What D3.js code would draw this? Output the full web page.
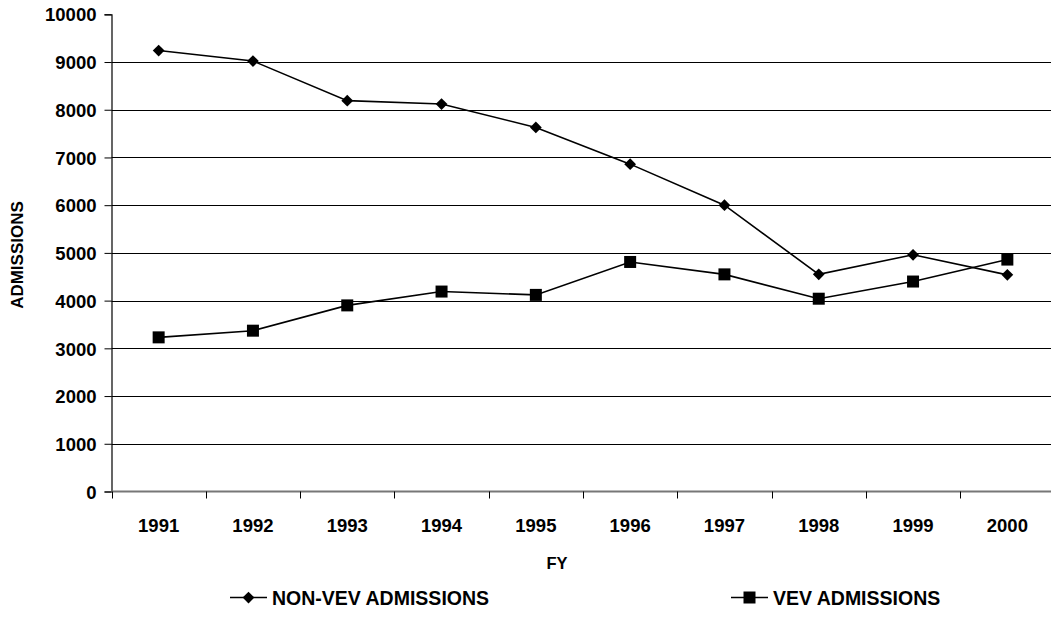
<!DOCTYPE html>
<html>
<body style="margin:0;background:#fff">

<script src="https://d3js.org/d3.v7.min.js"></script>
<style>
  text { font-family: "Liberation Sans", Arial, sans-serif; font-weight: bold; fill: #000; }
</style>

<script>

var years = ["1991", "1992", "1993", "1994", "1995", "1996", "1997", "1998", "1999", "2000"];
var nonVev = [9240, 9020, 8190, 8120, 7630, 6860, 6000, 4550, 4960, 4540];
var vev = [3230, 3370, 3900, 4190, 4120, 4810, 4550, 4040, 4400, 4860];
var yTicks = [0, 1000, 2000, 3000, 4000, 5000, 6000, 7000, 8000, 9000, 10000];

var width = 1051, height = 618;
var plotLeft = 111.5, plotRight = 1054.5, plotTop = 14.3, plotBottom = 491.5;

var svg = d3.select("body")
            .append("svg")
            .attr("width", width)
            .attr("height", height);

var xScale = d3.scaleBand()
               .domain(years)
               .range([plotLeft, plotRight]);

var yScale = d3.scaleLinear()
               .domain([0, 10000])
               .range([plotBottom, plotTop]);

// gridlines
svg.append("g")
   .selectAll("line")
   .data(yTicks.filter(function(d){return d > 0 && d < 10000}))
   .enter().append("line")
   .attr("x1", plotLeft).attr("x2", width)
   .attr("y1", function(d){return Math.round(yScale(d)) + 0.5})
   .attr("y2", function(d){return Math.round(yScale(d)) + 0.5})
   .attr("stroke", "#000")
   .attr("stroke-width", 1);

// y axis
var yAxis = d3.axisLeft(yScale)
              .tickValues(yTicks)
              .tickSize(7)
              .tickPadding(8)
              .tickFormat(d3.format("d"));

var gy = svg.append("g")
   .attr("transform", "translate(" + plotLeft + ",0)")
   .call(yAxis);
gy.select(".domain").attr("stroke", "#000").attr("stroke-width", 1.2);
gy.selectAll(".tick line").attr("stroke", "#000");
gy.selectAll("text")
  .style("font-size", "18.5px").attr("dy", "0.36em");
gy.attr("font-family", null).attr("font-size", null);

// x axis (ticks on band boundaries)
svg.append("line")
   .attr("x1", plotLeft).attr("x2", width)
   .attr("y1", plotBottom).attr("y2", plotBottom)
   .attr("stroke", "#777").attr("stroke-width", 2);

svg.append("g")
   .selectAll("line")
   .data(years)
   .enter().append("line")
   .attr("x1", function(d){return Math.round(xScale(d)) + 0.5})
   .attr("x2", function(d){return Math.round(xScale(d)) + 0.5})
   .attr("y1", plotBottom).attr("y2", plotBottom + 7)
   .attr("stroke", "#000");

svg.append("g")
   .selectAll("text")
   .data(years)
   .enter().append("text")
   .attr("x", function(d){return xScale(d) + xScale.bandwidth() / 2})
   .attr("y", 532)
   .attr("text-anchor", "middle")
   .style("font-size", "18.5px")
   .text(function(d){return d});

// axis titles
svg.append("text")
   .attr("x", 557).attr("y", 569)
   .attr("text-anchor", "middle")
   .style("font-size", "16.5px")
   .text("FY");

svg.append("text")
   .attr("transform", "translate(23,255) rotate(-90)")
   .attr("text-anchor", "middle")
   .style("font-size", "17px")
   .text("ADMISSIONS");

// series
var diamond = d3.symbol().type(d3.symbolDiamond2).size(88);
var square = d3.symbol().type(d3.symbolSquare).size(144);

function cx(i){return xScale(years[i]) + xScale.bandwidth() / 2}

var line = d3.line()
             .x(function(d, i){return cx(i)})
             .y(function(d){return yScale(d)});

svg.append("path")
   .datum(nonVev)
   .attr("d", line)
   .attr("fill", "none")
   .attr("stroke", "#000")
   .attr("stroke-width", 1.6);

svg.append("path")
   .datum(vev)
   .attr("d", line)
   .attr("fill", "none")
   .attr("stroke", "#000")
   .attr("stroke-width", 1.6);

svg.append("g")
   .selectAll("path")
   .data(nonVev)
   .enter().append("path")
   .attr("d", diamond)
   .attr("transform", function(d, i){return "translate(" + cx(i) + "," + yScale(d) + ")"})
   .attr("fill", "#000");

svg.append("g")
   .selectAll("path")
   .data(vev)
   .enter().append("path")
   .attr("d", square)
   .attr("transform", function(d, i){return "translate(" + cx(i) + "," + yScale(d) + ")"})
   .attr("fill", "#000");

// legend
var legend = [
  {name: "NON-VEV ADMISSIONS", x: 230, sym: diamond},
  {name: "VEV ADMISSIONS", x: 731, sym: square}
];

var lg = svg.append("g")
   .selectAll("g")
   .data(legend)
   .enter().append("g")
   .attr("transform", function(d){return "translate(" + d.x + ",597.5)"});

lg.append("line")
  .attr("x1", 0).attr("x2", 37)
  .attr("stroke", "#000").attr("stroke-width", 1.6);

lg.append("path")
  .attr("d", function(d){return d.sym()})
  .attr("transform", "translate(18.5,0)")
  .attr("fill", "#000");

lg.append("text")
  .attr("x", 42).attr("y", 7)
  .style("font-size", "19.5px")
  .text(function(d){return d.name});

</script>
</body>
</html>
